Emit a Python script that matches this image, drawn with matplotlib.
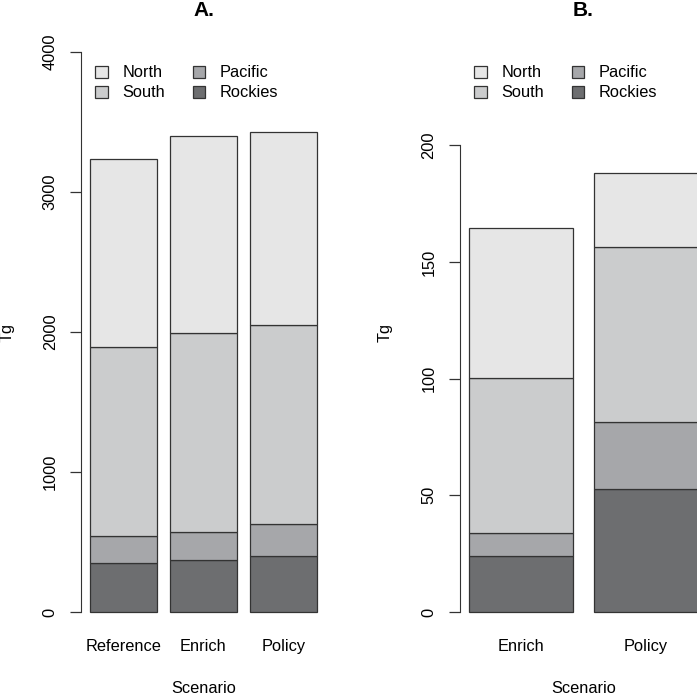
import matplotlib
matplotlib.use("Agg")
import matplotlib.pyplot as plt
from matplotlib.patches import Patch

plt.rcParams['font.family'] = ['Liberation Sans', 'DejaVu Sans']

# valeurs (Tg), empilées de bas en haut
regions = ["Rockies", "Pacific", "South", "North"]
colors = {"North": "#e6e6e6", "South": "#cbcccd", "Pacific": "#a6a7aa", "Rockies": "#6d6e70"}

scen_a = ["Reference", "Enrich", "Policy"]
rockies_a = [348, 371, 400]
pacific_a = [193, 203, 226]
south_a = [1354, 1419, 1422]
north_a = [1343, 1409, 1378]

scen_b = ["Enrich", "Policy"]
rockies_b = [24.0, 52.6]
pacific_b = [9.7, 29.0]
south_b = [66.4, 75.0]
north_b = [64.3, 31.7]

edge = "#333333"
fs = 11.8


def stacked(ax, names, series, ymax, yticks, title):
    pos = [0.7 + 1.2 * i for i in range(len(names))]
    bottom = [0.0] * len(names)
    for reg, vals in zip(regions, series):
        ax.bar(pos, vals, width=1.0, bottom=bottom, color=colors[reg],
               edgecolor=edge, linewidth=0.9)
        bottom = [b + v for b, v in zip(bottom, vals)]
    lo, hi = 0.2, pos[-1] + 0.5
    ext = 0.04 * (hi - lo)
    ax.set_xlim(lo - ext, hi + ext)
    ax.set_ylim(-0.04 * ymax, 1.04 * ymax)
    for s in ["top", "right", "bottom"]:
        ax.spines[s].set_visible(False)
    ax.spines["left"].set_bounds(yticks[0], yticks[-1])
    ax.spines["left"].set_color(edge)
    ax.set_yticks(yticks)
    ax.set_yticklabels([str(t) for t in yticks], rotation=90, va="center")
    ax.tick_params(axis="y", length=7.7, width=0.9, color=edge, pad=9, labelsize=fs)
    ax.set_xticks(pos)
    ax.set_xticklabels(names)
    ax.tick_params(axis="x", length=0, pad=3.5, labelsize=fs)
    ax.set_xlabel("Scenario", fontsize=fs, labelpad=19)
    ax.set_ylabel("Tg", fontsize=fs)
    ax.set_title(title, fontweight="bold", fontsize=15, pad=10)
    handles = [Patch(facecolor=colors[r], edgecolor=edge, linewidth=0.9)
               for r in ["North", "South", "Pacific", "Rockies"]]
    return handles


fig = plt.figure(figsize=(6.97, 6.95), dpi=100)
bot = (695 - 634.4) / 695
h = (634.4 - 29.6) / 695
ax_a = fig.add_axes([81 / 697, bot, 245 / 697, h])
ax_b = fig.add_axes([459.8 / 697, bot, 247.2 / 697, h])

ha = stacked(ax_a, scen_a, [rockies_a, pacific_a, south_a, north_a], 4000,
             [0, 1000, 2000, 3000, 4000], "A.")
hb = stacked(ax_b, scen_b, [rockies_b, pacific_b, south_b, north_b], 240,
             [0, 50, 100, 150, 200], "B.")
ax_a.yaxis.set_label_coords(-0.272, 0.5)
ax_b.yaxis.set_label_coords(-0.270, 0.5)

labels = ["North", "South", "Pacific", "Rockies"]
for ax, hd, x0 in [(ax_a, ha, 84), (ax_b, hb, 463)]:
    ax.legend(hd, labels, ncol=2, frameon=False, fontsize=fs,
              loc="upper left", bbox_to_anchor=(x0 / 697, 1 - 54 / 695),
              bbox_transform=fig.transFigure, handlelength=0.75, handleheight=0.75,
              handletextpad=0.9, columnspacing=1.68, labelspacing=0.3,
              borderpad=0.2)

fig.savefig("out.png", dpi=100)
